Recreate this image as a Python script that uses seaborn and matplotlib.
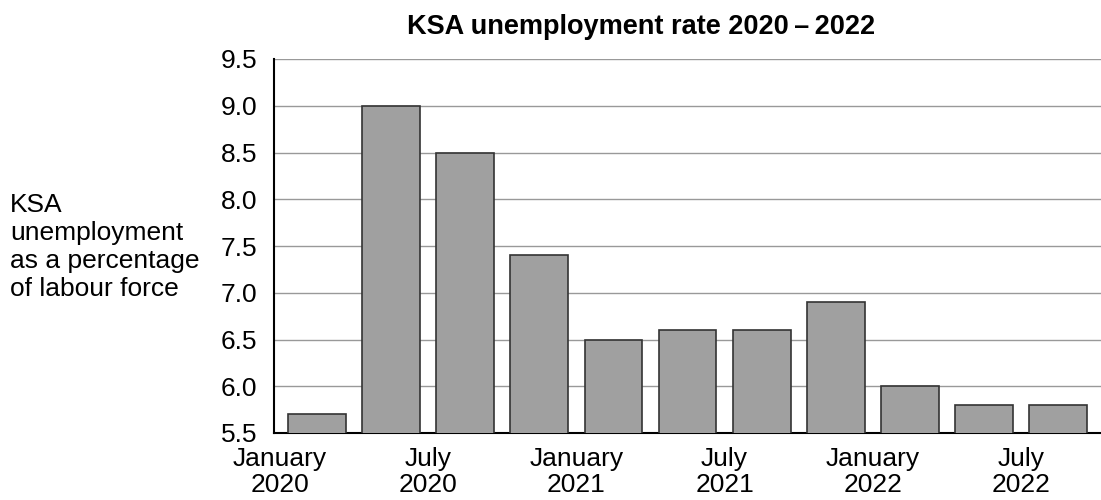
import matplotlib
matplotlib.use("Agg")
import matplotlib.pyplot as plt
import seaborn as sns
import pandas as pd

# quarterly data
quarters = ["Q1 2020", "Q2 2020", "Q3 2020", "Q4 2020", "Q1 2021", "Q2 2021",
            "Q3 2021", "Q4 2021", "Q1 2022", "Q2 2022", "Q3 2022"]
rates = [5.7, 9.0, 8.5, 7.4, 6.5, 6.6, 6.6, 6.9, 6.0, 5.8, 5.8]
tick_labels = ["January\n2020", "July\n2020", "January\n2021",
               "July\n2021", "January\n2022", "July\n2022"]
y_ticks = [5.5, 6.0, 6.5, 7.0, 7.5, 8.0, 8.5, 9.0, 9.5]

df = pd.DataFrame({"quarter": quarters, "rate": rates})

sns.set_style("white")
plt.rcParams["font.family"] = ["Liberation Sans", "DejaVu Sans"]
plt.rcParams["text.color"] = "black"
plt.rcParams["xtick.color"] = "black"
plt.rcParams["ytick.color"] = "black"

fig = plt.figure(figsize=(11.01, 5), dpi=100)
ax = fig.add_axes([0.2489, 0.134, 0.7511, 0.748])

sns.barplot(data=df, x="quarter", y="rate", color="#a0a0a0", saturation=1,
            width=0.78, edgecolor="#333333", linewidth=1.2, ax=ax, zorder=3)

ax.set_ylim(5.5, 9.5)
ax.set_xlim(-0.58, 10.58)
ax.set_yticks(y_ticks)
ax.set_yticklabels([f"{v:.1f}" for v in y_ticks], fontsize=19)
ax.set_xticks([-0.5, 1.5, 3.5, 5.5, 7.5, 9.5])
ax.set_xticklabels(tick_labels, fontsize=19, linespacing=1.12)
ax.tick_params(axis="x", length=0, pad=10)
ax.tick_params(axis="y", length=9, width=1.2, pad=3, direction="out")

ax.yaxis.grid(True, color="#999999", linewidth=1.0, zorder=0)
ax.set_axisbelow(True)
ax.set_xlabel("")
ax.set_ylabel("")

for side in ["top", "right"]:
    ax.spines[side].set_visible(False)
for side in ["left", "bottom"]:
    ax.spines[side].set_color("black")
    ax.spines[side].set_linewidth(1.5)

fig.text(641 / 1101, 1 - 27 / 500, "KSA unemployment rate 2020\u2009\u2013\u20092022",
         fontsize=19.5, fontweight="bold", ha="center", va="center")

fig.text(10 / 1101, 1 - 247 / 500,
         "KSA\nunemployment\nas a percentage\nof labour force",
         fontsize=19, ha="left", va="center", linespacing=1.2)

fig.savefig("out.png", dpi=100)
